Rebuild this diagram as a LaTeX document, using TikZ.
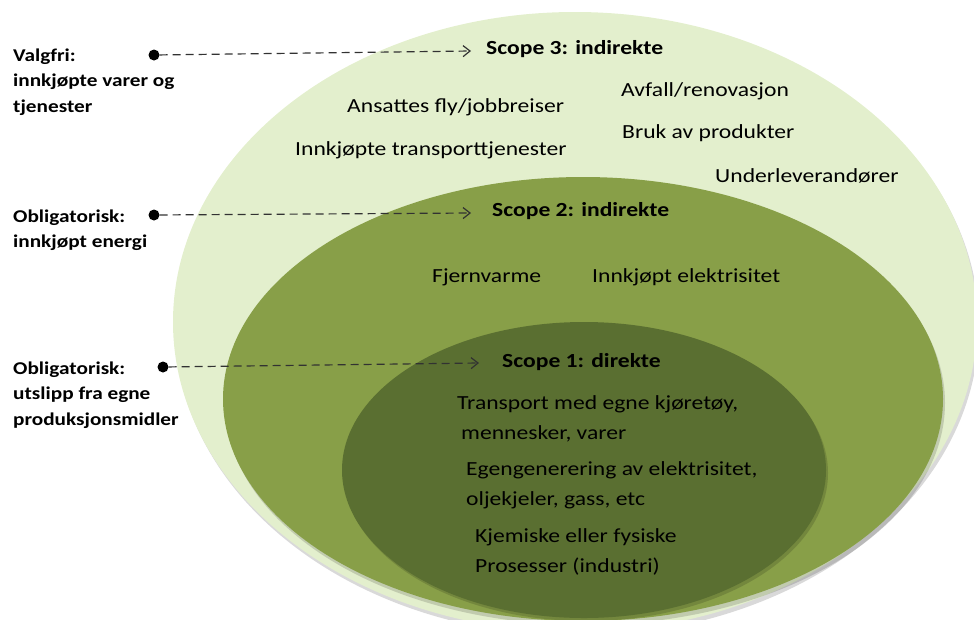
\documentclass[tikz,border=0pt]{standalone}
\usepackage{fontspec}
\setmainfont{Carlito}[FakeStretch=1.18]
\usepackage{tikz}
\usetikzlibrary{arrows.meta, calc, positioning}

\definecolor{scopethree}{RGB}{227,239,205}
\definecolor{scopetwo}{RGB}{136,159,72}
\definecolor{scopeone}{RGB}{90,111,49}
\definecolor{dashgray}{RGB}{50,50,50}

\begin{document}
\begin{tikzpicture}[x=1pt, y=-1pt,
    shade/.style={fill=black, opacity=0.15},
    lbl/.style={anchor=west, inner sep=0pt, align=left, font=\fontsize{18}{25.5}\selectfont\bfseries},
    head/.style={anchor=west, inner sep=0pt, font=\fontsize{20}{24}\selectfont\bfseries},
    item/.style={anchor=west, inner sep=0pt, align=left, font=\fontsize{20}{30}\selectfont},
    dot/.style={circle, fill=black, inner sep=0pt, minimum size=11pt},
    conn/.style={dash pattern=on 8pt off 5pt, draw=dashgray, line width=1.2pt,
      -{Straight Barb[length=7pt, width=11pt]}}]
    \useasboundingbox (0,0) rectangle (974,619);

    % Ellipses
    \fill[shade] (577,326) ellipse [x radius=402pt, y radius=310pt];
    \fill[scopethree] (575,322) ellipse [x radius=402pt, y radius=310pt];
    \fill[shade] (585,403) ellipse [x radius=360pt, y radius=222pt];
    \fill[scopetwo] (583,399) ellipse [x radius=360pt, y radius=222pt];
    \fill[shade] (586,473) ellipse [x radius=242pt, y radius=148pt];
    \fill[scopeone] (584,470) ellipse [x radius=242pt, y radius=148pt];

    % Scope headings
    \node[head] (s3) at (486,49) {Scope 3: indirekte};
    \node[head] (s2) at (492,211) {Scope 2: indirekte};
    \node[head] (s1) at (502,362) {Scope 1: direkte};

    % Scope 3
    \node[item] (fly) at (347,107) {Ansattes fly/jobbreiser};
    \node[item] (transp) at (295,150) {Innkjøpte transporttjenester};
    \node[item] (avfall) at (621,91) {Avfall/renovasjon};
    \node[item] (bruk) at (622,133) {Bruk av produkter};
    \node[item] (under) at (715,176) {Underleverandører};

    % Scope 2
    \node[item] (fjern) at (432,277) {Fjernvarme};
    \node[item] (elkjop) at (592,277) {Innkjøpt elektrisitet};

    % Scope 1
    \node[item] (egnebil) at (457,419) {Transport med egne kjøretøy,\\ \hspace{4pt}mennesker, varer};
    \node[item] (egenel) at (466,485) {Egengenerering av elektrisitet,\\oljekjeler, gass, etc};
    \node[item] (kjemi) at (475,552) {Kjemiske eller fysiske\\Prosesser (industri)};

    % Left labels
    \node[lbl] (valg) at (13,82) {Valgfri:\\innkjøpte varer og\\tjenester};
    \node[lbl] (oblto) at (13,230) {Obligatorisk:\\innkjøpt energi};
    \node[lbl] (oblen) at (13,395) {Obligatorisk:\\utslipp fra egne\\produksjonsmidler};

    % Dots and arrows
    \node[dot] (d3) at (154,55) {};
    \node[dot] (d2) at (154,215) {};
    \node[dot] (d1) at (163,367) {};
    \coordinate (a3) at (471,51);
    \coordinate (a2) at (471,213);
    \coordinate (a1) at (479,363);
    \draw[conn] (d3) -- (a3);
    \draw[conn] (d2) -- (a2);
    \draw[conn] (d1) -- (a1);
\end{tikzpicture}
\end{document}
